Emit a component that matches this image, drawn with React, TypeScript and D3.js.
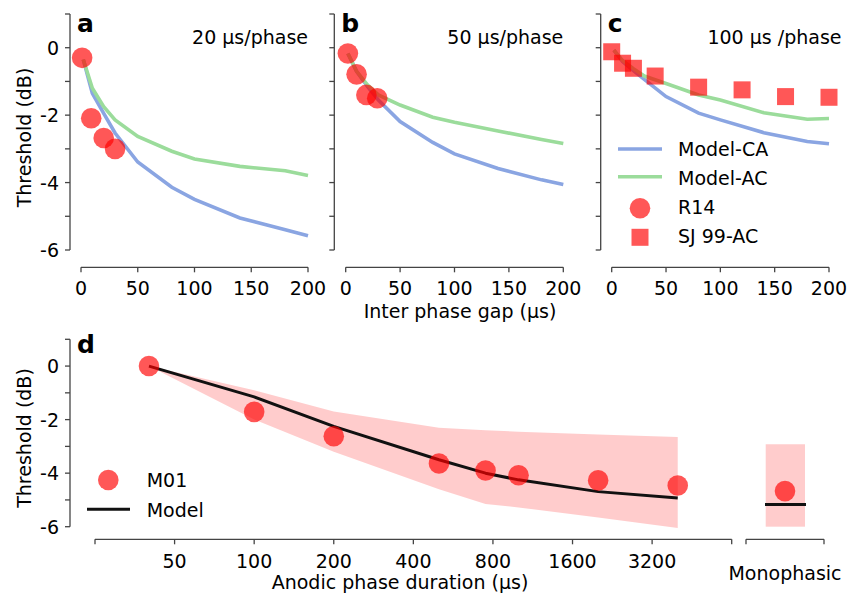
import React from "react";
import * as d3 from "d3";

// ---------- data ----------
const gap = [2, 10, 20, 30, 50, 80, 100, 140, 180, 200];
const caA = [-0.35, -1.35, -1.95, -2.53, -3.39, -4.14, -4.5, -5.05, -5.4, -5.58];
const acA = [-0.35, -1.2, -1.75, -2.14, -2.63, -3.07, -3.3, -3.52, -3.65, -3.79];
const caB = [-0.17, -0.7, -1.15, -1.55, -2.19, -2.81, -3.15, -3.58, -3.92, -4.06];
const acB = [-0.17, -0.7, -1.1, -1.4, -1.7, -2.06, -2.21, -2.47, -2.72, -2.84];
const caC = [-0.07, -0.41, -0.68, -0.94, -1.45, -1.94, -2.14, -2.52, -2.78, -2.85];
const acC = [-0.07, -0.38, -0.62, -0.84, -1.06, -1.4, -1.55, -1.93, -2.12, -2.1];

const r14GapA = [1, 9, 20, 30];
const r14A = [-0.3, -2.09, -2.68, -3.0];
const r14GapB = [2, 10, 19, 29];
const r14B = [-0.17, -0.79, -1.4, -1.5];
const sjGap = [0, 10, 20, 40, 80, 120, 160, 200];
const sjC = [-0.12, -0.46, -0.61, -0.84, -1.17, -1.25, -1.45, -1.47];

const duration = [40, 100, 200, 500, 750, 1000, 2000, 4000];
const m01 = [0, -1.71, -2.62, -3.64, -3.9, -4.08, -4.27, -4.46];
const modelD = [0, -1.15, -2.25, -3.5, -4.0, -4.25, -4.69, -4.93];
const bandUpper = [0, -0.9, -1.7, -2.3, -2.4, -2.45, -2.56, -2.65];
const bandLower = [0, -2.0, -3.2, -4.6, -5.15, -5.28, -5.66, -6.05];
const monoM01 = -4.67;
const monoModel = -5.17;
const monoBand = [-6.0, -2.92];

const gapTicks = [0, 50, 100, 150, 200];
const yTicks = [-6, -5, -4, -3, -2, -1, 0, 1];
const yLabels = [-6, -4, -2, 0];
const durTicks = [25, 50, 100, 200, 400, 800, 1600, 3200, 6400];
const durLabels = [50, 100, 200, 400, 800, 1600, 3200];

// ---------- style ----------
const FONT = "DejaVu Sans";
const FS = 19;
const AX = "#444";
const BLUE = "#8aa5e2";
const GREEN = "#9bdc9b";
const RED = "red";
const RED_OP = 0.66;

const yTop = d3.scaleLinear().domain([-6, 1]).range([250, 14]);
const yBot = d3.scaleLinear().domain([-6, 1]).range([526.7, 339.3]);

const panels = [
  { letter: "a", title: "20 µs/phase", axisX: 70, x0: 81, x1: 308, ca: caA, ac: acA, rg: r14GapA, r: r14A, sq: false },
  { letter: "b", title: "50 µs/phase", axisX: 334.3, x0: 345.7, x1: 563.3, ca: caB, ac: acB, rg: r14GapB, r: r14B, sq: false },
  { letter: "c", title: "100 µs /phase", axisX: 600.7, x0: 611.7, x1: 829, ca: caC, ac: acC, rg: [], r: [], sq: true },
];

function YAxis({ x, y, labels }: { x: number; y: d3.ScaleLinear<number, number>; labels: boolean }) {
  const [r0, r1] = y.range();
  return (
    <g>
      <line x1={x} x2={x} y1={r0} y2={r1} stroke={AX} strokeWidth={1.3} />
      {yTicks.map((t) => (
        <line key={t} x1={x - 5} x2={x} y1={y(t)} y2={y(t)} stroke={AX} strokeWidth={1.3} />
      ))}
      {labels &&
        yLabels.map((t) => (
          <text key={t} x={x - 11} y={y(t) + 7} textAnchor="end" fontSize={FS} fontFamily={FONT}>
            {t}
          </text>
        ))}
    </g>
  );
}

export default function App() {
  const lineGen = (xs: d3.ScaleLinear<number, number>, vals: number[]) =>
    d3.line<number>().x((_, i) => xs(gap[i])).y((v) => yTop(v))(vals) || "";

  const xD = d3.scaleLog().base(2).domain([25, 6400]).range([95, 731.7]);
  const monoX0 = 746, monoX1 = 824, monoC = 785;
  const modelLine = d3.line<number>().x((_, i) => xD(duration[i])).y((v) => yBot(v))(modelD) || "";
  const band = d3
    .area<number>()
    .x((_, i) => xD(duration[i]))
    .y0((_, i) => yBot(bandLower[i]))
    .y1((_, i) => yBot(bandUpper[i]))(bandUpper) || "";
  const xAxisTop = 267.3;
  const xAxisBot = 539.3;

  return (
    <svg width={849} height={593} style={{ position: "absolute", left: 0, top: 0, background: "white" }} fontFamily={FONT}>
      {panels.map((p) => {
        const xs = d3.scaleLinear().domain([0, 200]).range([p.x0, p.x1]);
        return (
          <g key={p.letter}>
            <YAxis x={p.axisX} y={yTop} labels={p.letter === "a"} />
            <line x1={xs(0)} x2={xs(200)} y1={xAxisTop} y2={xAxisTop} stroke={AX} strokeWidth={1.3} />
            {gapTicks.map((t) => (
              <g key={t}>
                <line x1={xs(t)} x2={xs(t)} y1={xAxisTop} y2={xAxisTop + 5} stroke={AX} strokeWidth={1.3} />
                <text x={xs(t)} y={xAxisTop + 28} textAnchor="middle" fontSize={FS}>
                  {t}
                </text>
              </g>
            ))}
            <path d={lineGen(xs, p.ca)} fill="none" stroke={BLUE} strokeWidth={3.6} />
            <path d={lineGen(xs, p.ac)} fill="none" stroke={GREEN} strokeWidth={3.6} />
            {p.r.map((v, i) => (
              <circle key={i} cx={xs(p.rg[i])} cy={yTop(v)} r={10.3} fill={RED} fillOpacity={RED_OP} />
            ))}
            {p.sq &&
              sjC.map((v, i) => (
                <rect key={i} x={xs(sjGap[i]) - 8.5} y={yTop(v) - 8.5} width={17} height={17} fill={RED} fillOpacity={RED_OP} />
              ))}
            <text x={p.axisX + 7} y={32} fontSize={25} fontWeight="bold">
              {p.letter}
            </text>
            <text x={p.x1 + (p.letter === "c" ? 12.5 : 0)} y={44} textAnchor="end" fontSize={FS}>
              {p.title}
            </text>
          </g>
        );
      })}
      <text transform="translate(31,137.5) rotate(-90)" textAnchor="middle" fontSize={FS}>
        Threshold (dB)
      </text>
      <text x={460} y={318} textAnchor="middle" fontSize={FS}>
        Inter phase gap (µs)
      </text>

      {/* legend c */}
      <g fontSize={FS}>
        <line x1={618} x2={662} y1={149} y2={149} stroke={BLUE} strokeWidth={3.6} />
        <text x={678} y={156}>Model-CA</text>
        <line x1={618} x2={662} y1={176.7} y2={176.7} stroke={GREEN} strokeWidth={3.6} />
        <text x={678} y={185}>Model-AC</text>
        <circle cx={640} cy={208.3} r={10.3} fill={RED} fillOpacity={RED_OP} />
        <text x={678} y={214}>R14</text>
        <rect x={631.5} y={228.8} width={17} height={17} fill={RED} fillOpacity={RED_OP} />
        <text x={678} y={243}>SJ 99-AC</text>
      </g>

      {/* panel d */}
      <YAxis x={70} y={yBot} labels={true} />
      <text x={77} y={353} fontSize={25} fontWeight="bold">
        d
      </text>
      <text transform="translate(31,438) rotate(-90)" textAnchor="middle" fontSize={FS}>
        Threshold (dB)
      </text>
      <path d={band} fill="#ff0000" fillOpacity={0.2} />
      <path d={modelLine} fill="none" stroke="#111" strokeWidth={3} strokeLinejoin="round" />
      {m01.map((v, i) => (
        <circle key={i} cx={xD(duration[i])} cy={yBot(v)} r={10.3} fill={RED} fillOpacity={RED_OP} />
      ))}
      <line x1={xD(25)} x2={xD(6400)} y1={xAxisBot} y2={xAxisBot} stroke={AX} strokeWidth={1.3} />
      {durTicks.map((t) => (
        <line key={t} x1={xD(t)} x2={xD(t)} y1={xAxisBot} y2={xAxisBot + 5} stroke={AX} strokeWidth={1.3} />
      ))}
      {durLabels.map((t) => (
        <text key={t} x={xD(t)} y={xAxisBot + 29} textAnchor="middle" fontSize={FS}>
          {t}
        </text>
      ))}
      <text x={400} y={589} textAnchor="middle" fontSize={FS}>
        Anodic phase duration (µs)
      </text>

      {/* monophasic */}
      <rect x={monoX0 + 19.7} y={yBot(monoBand[1])} width={39.3} height={yBot(monoBand[0]) - yBot(monoBand[1])} fill="#ff0000" fillOpacity={0.2} />
      <line x1={monoX0 + 19} x2={monoX0 + 60} y1={yBot(monoModel)} y2={yBot(monoModel)} stroke="#111" strokeWidth={3} />
      <circle cx={monoC} cy={yBot(monoM01)} r={10.3} fill={RED} fillOpacity={RED_OP} />
      <line x1={monoX0} x2={monoX1} y1={xAxisBot} y2={xAxisBot} stroke={AX} strokeWidth={1.3} />
      <line x1={monoX0} x2={monoX0} y1={xAxisBot} y2={xAxisBot + 5} stroke={AX} strokeWidth={1.3} />
      <line x1={monoX1} x2={monoX1} y1={xAxisBot} y2={xAxisBot + 5} stroke={AX} strokeWidth={1.3} />
      <text x={monoC} y={580} textAnchor="middle" fontSize={FS}>
        Monophasic
      </text>

      {/* legend d */}
      <g fontSize={FS}>
        <circle cx={108.3} cy={480} r={10.3} fill={RED} fillOpacity={RED_OP} />
        <text x={146.7} y={487}>M01</text>
        <line x1={87} x2={130} y1={509.3} y2={509.3} stroke="#111" strokeWidth={3} />
        <text x={146.7} y={516.5}>Model</text>
      </g>
    </svg>
  );
}
